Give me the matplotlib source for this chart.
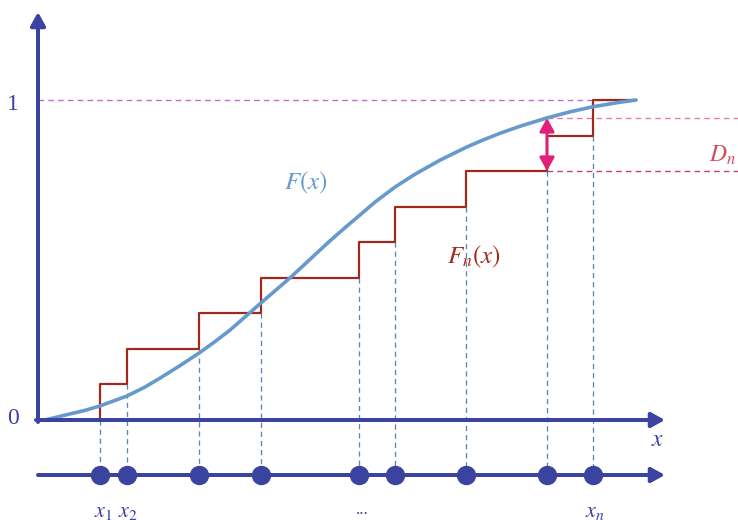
import numpy as np
import matplotlib
matplotlib.use("Agg")
import matplotlib.pyplot as plt

plt.rcParams["mathtext.fontset"] = "stix"
plt.rcParams["font.family"] = ["Liberation Serif", "DejaVu Serif"]

# Sample points on the horizontal axis and the empirical CDF levels
samples = [100, 127, 199, 261, 359, 395, 466, 547, 593]
n = len(samples)
fn_levels = [k / n for k in range(1, n + 1)]
x_end = 636

# Theoretical CDF F(x)
curve_x = [45, 70, 85, 100, 127, 145, 160, 180, 199, 215, 230, 245, 261, 290, 310, 330,
           345, 359, 375, 395, 415, 440, 466, 483, 500, 520, 547, 570, 593, 620, 636]
curve_y = [0.0, 0.019, 0.030, 0.044, 0.075, 0.103, 0.131, 0.170, 0.209, 0.245, 0.281,
           0.322, 0.366, 0.444, 0.502, 0.560, 0.601, 0.638, 0.681, 0.728, 0.768, 0.812,
           0.852, 0.875, 0.896, 0.918, 0.944, 0.963, 0.979, 0.993, 1.0]

dn_index = curve_x.index(547)
dn_low = fn_levels[samples.index(547) - 1]
dn_high = curve_y[dn_index]

AXIS = "#3a44a0"
CURVE = "#6699cc"
STEP = "#a0281e"
DASH = "#5b86b8"

fig = plt.figure(figsize=(7.38, 5.2), dpi=100)
ax = fig.add_axes([0, 0, 1, 1])
ax.set_xlim(0, 738)
ax.set_ylim(-0.3125, 1.3125)
ax.axis("off")

px = 0.72  # points per pixel
line_y = -55 / 320  # level of the sample number line

# dashed drop lines from each sample point
for xi, lo in zip(samples, [0] + fn_levels[:-1]):
    ax.plot([xi, xi], [lo, line_y], color=DASH, lw=1.3 * px, ls=(0, (4, 3)), zorder=1)

# reference levels
ax.plot([38, x_end], [1, 1], color="#c070c8", lw=1.4 * px, ls=(0, (4, 3)), zorder=1)
ax.plot([547, 738], [dn_high, dn_high], color="#e878ae", lw=1.4 * px, ls=(0, (4, 3)), zorder=1)
ax.plot([547, 738], [dn_low, dn_low], color="#c8406e", lw=1.4 * px, ls=(0, (4, 3)), zorder=1)

# empirical CDF
sx = [samples[0]] + samples + [x_end]
sy = [0] + fn_levels + [1]
ax.step(sx, sy, where="post", color=STEP, lw=2.2 * px, zorder=3)

# theoretical CDF
ax.plot(curve_x, curve_y, color=CURVE, lw=3.6 * px, solid_capstyle="round",
        solid_joinstyle="round", zorder=4)

# axes with arrow heads
arrow = dict(arrowstyle="-|>,head_length=1.0,head_width=0.55", lw=4 * px, color=AXIS,
             shrinkA=0, shrinkB=0, mutation_scale=8)
ax.annotate("", xy=(665, 0), xytext=(36, 0), arrowprops=arrow, zorder=5)
ax.annotate("", xy=(38, 408 / 320), xytext=(38, -2 / 320), arrowprops=arrow, zorder=5)
ax.annotate("", xy=(665, line_y), xytext=(38, line_y), arrowprops=arrow, zorder=5)

# sample points
ax.plot(samples, [line_y] * n, "o", color=AXIS, ms=18 * px, zorder=6)

# D_n arrow
ax.annotate("", xy=(547, dn_high), xytext=(547, dn_low),
            arrowprops=dict(arrowstyle="<|-|>,head_length=1.0,head_width=0.55", lw=3 * px,
                            color="#e0207a", shrinkA=0, shrinkB=0, mutation_scale=8),
            zorder=7)

# labels
ax.text(13, 1 - 5 / 320, "1", color=AXIS, fontsize=17, ha="center", va="center")
ax.text(13, 2 / 320, "0", color=AXIS, fontsize=17, ha="center", va="center")
ax.text(658, -20 / 320, r"$x$", color=AXIS, fontsize=17, ha="center", va="center")
ax.text(306, (420 - 183) / 320, r"$F(x)$", color=CURVE, fontsize=18, ha="center", va="center")
ax.text(474, (420 - 257) / 320, r"$F_n(x)$", color=STEP, fontsize=18, ha="center", va="center")
ax.text(736, (420 - 155) / 320, r"$D_n$", color="#cc5060", fontsize=17, ha="right", va="center")
ax.text(103, -92 / 320, r"$x_1$", color=AXIS, fontsize=16, ha="center", va="center")
ax.text(128, -92 / 320, r"$x_2$", color=AXIS, fontsize=16, ha="center", va="center")
ax.text(362, -90 / 320, "...", color=AXIS, fontsize=12, ha="center", va="center")
ax.text(595, -92 / 320, r"$x_n$", color=AXIS, fontsize=16, ha="center", va="center")

fig.savefig("out.png", dpi=100)
